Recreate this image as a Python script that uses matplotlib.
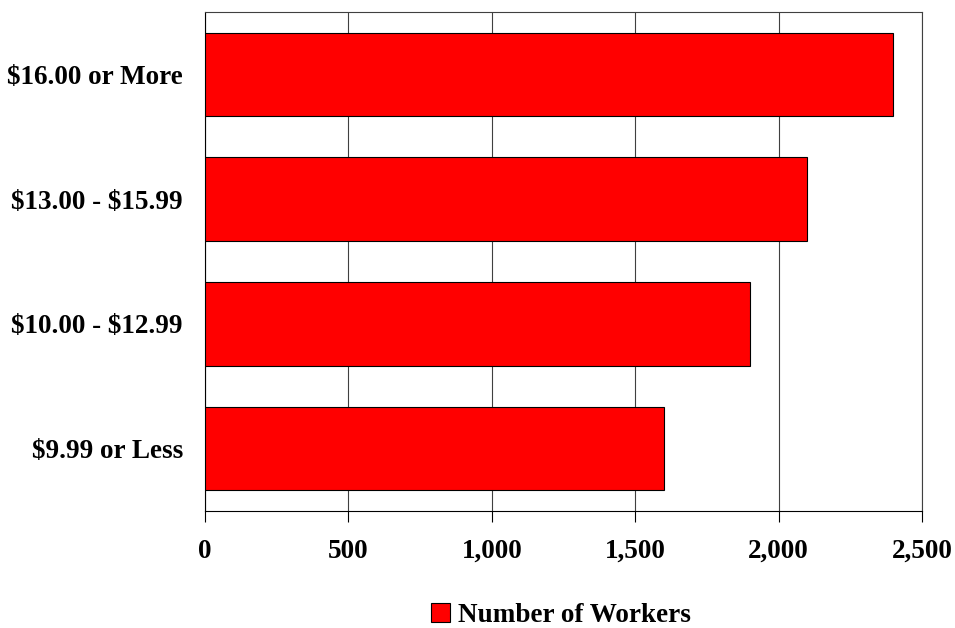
import matplotlib
matplotlib.use("Agg")
import matplotlib.pyplot as plt
from matplotlib.ticker import FuncFormatter

categories = ["$9.99 or Less", "$10.00 - $12.99", "$13.00 - $15.99", "$16.00 or More"]
workers = [1600, 1900, 2100, 2400]
xticks = [0, 500, 1000, 1500, 2000, 2500]
series_name = "Number of Workers"

plt.rcParams['font.family'] = ['Liberation Serif', 'DejaVu Serif']
plt.rcParams['font.weight'] = 'bold'

FS = 19.5
fig = plt.figure(figsize=(9.55, 6.28), dpi=100)
ax = fig.add_axes([205/955, 1 - 511/628, (922-205)/955, (511-12)/628])

y = range(len(categories))
ax.barh(list(y), workers, height=0.67, color='#FF0000', edgecolor='black', linewidth=0.8,
        label=series_name, zorder=3)
ax.set_xlim(0, 2500)
ax.set_ylim(-0.5, len(categories) - 0.5)
ax.set_xticks(xticks)
ax.xaxis.set_major_formatter(FuncFormatter(lambda v, p: f"{int(v):,}"))
ax.set_yticks(list(y))
ax.set_yticklabels([c.replace("$", r"\$") for c in categories])
ax.tick_params(axis='y', length=0, pad=16, labelsize=FS)
ax.tick_params(axis='x', length=8, width=0.8, direction='out', pad=12, labelsize=FS)
ax.grid(axis='x', color='#404040', linewidth=0.8, zorder=0)
for s in ['top', 'right']:
    ax.spines[s].set_color('#404040')
    ax.spines[s].set_linewidth(0.8)
for s in ['left', 'bottom']:
    ax.spines[s].set_color('black')
    ax.spines[s].set_linewidth(0.8)

leg = fig.legend(loc='center', bbox_to_anchor=(561/955, 1 - 615/628), frameon=False,
                 fontsize=FS, handlelength=0.7, handleheight=0.7, handletextpad=0.3,
                 borderpad=0, borderaxespad=0)
fig.savefig("out.png", dpi=100)
